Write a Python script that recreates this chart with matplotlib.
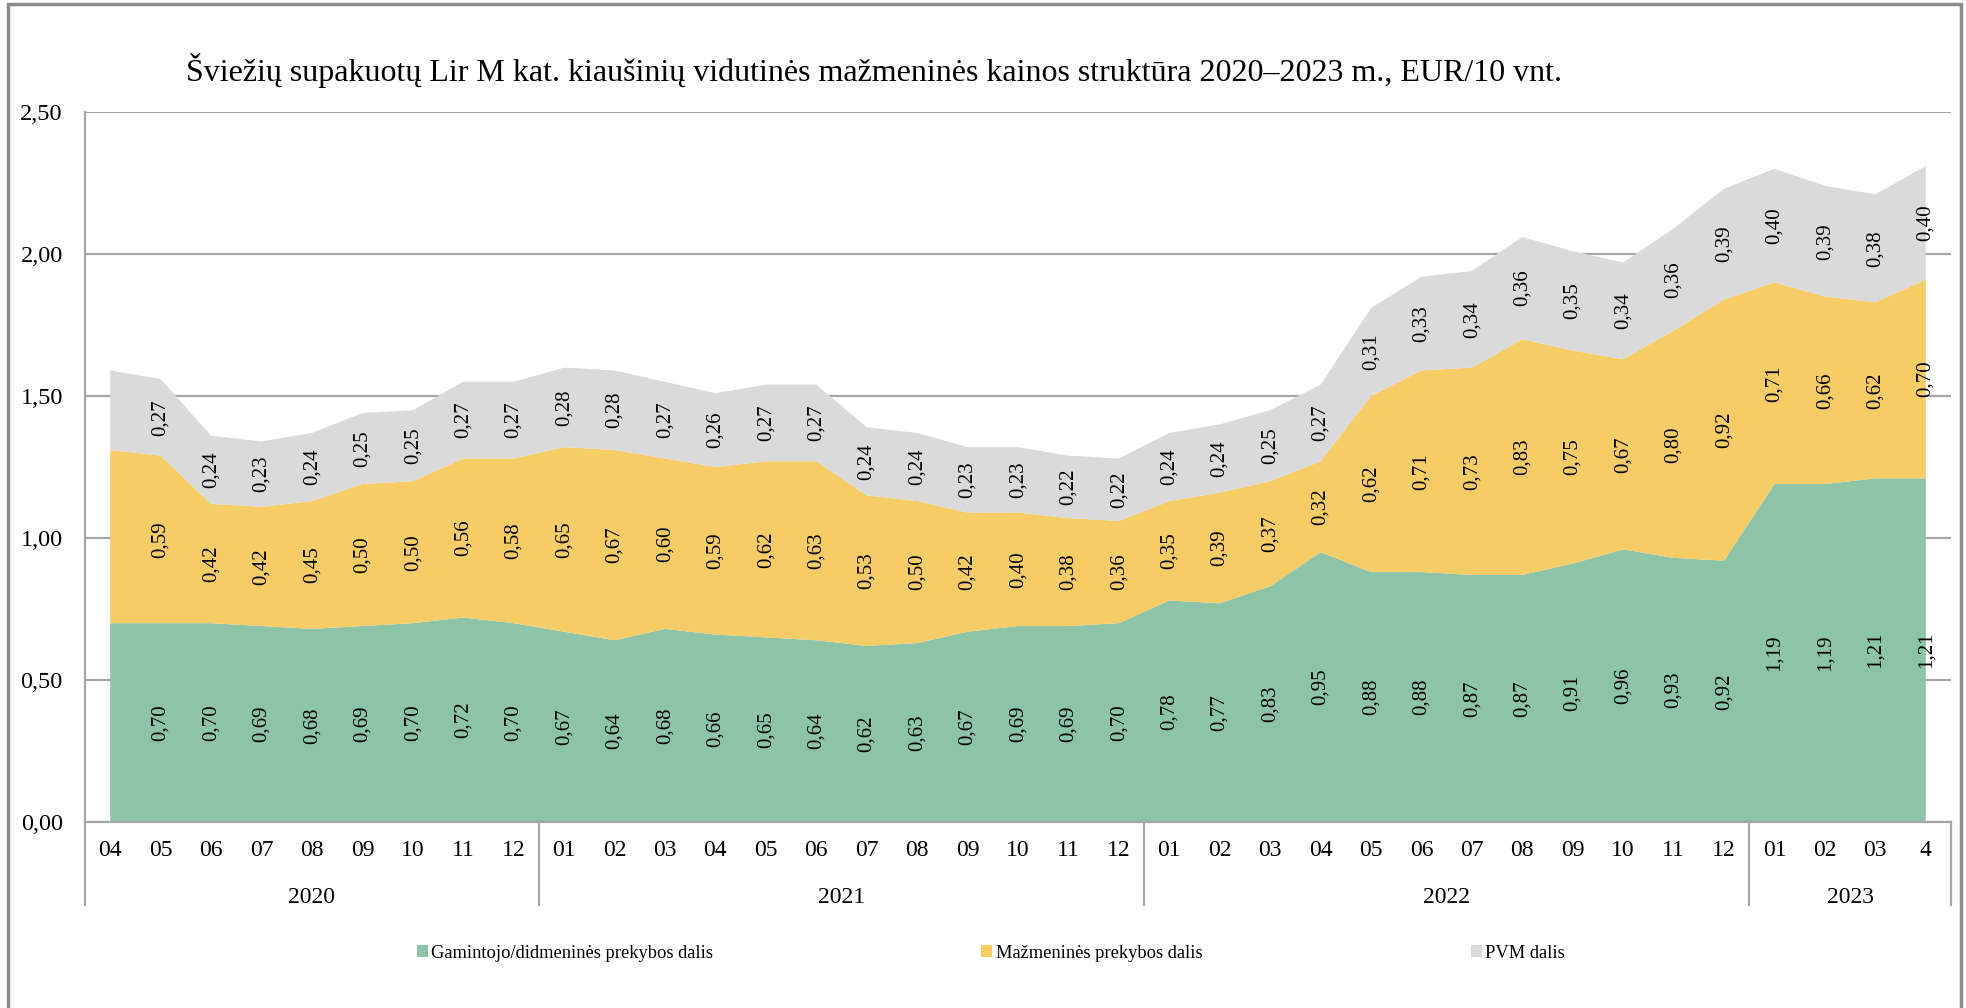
import matplotlib
matplotlib.use("Agg")
import matplotlib.pyplot as plt
import matplotlib.transforms as mtransforms
from matplotlib.patches import Rectangle

plt.rcParams['font.family'] = ['Liberation Serif', 'DejaVu Serif']

# duomenys, EUR/10 vnt.
months = ['04', '05', '06', '07', '08', '09', '10', '11', '12',
          '01', '02', '03', '04', '05', '06', '07', '08', '09', '10', '11', '12',
          '01', '02', '03', '04', '05', '06', '07', '08', '09', '10', '11', '12',
          '01', '02', '03', '4']
years = ['2020', '2021', '2022', '2023']
year_counts = [9, 12, 12, 4]

gamintojo = [0.70, 0.70, 0.70, 0.69, 0.68, 0.69, 0.70, 0.72, 0.70,
             0.67, 0.64, 0.68, 0.66, 0.65, 0.64, 0.62, 0.63, 0.67, 0.69, 0.69, 0.70,
             0.78, 0.77, 0.83, 0.95, 0.88, 0.88, 0.87, 0.87, 0.91, 0.96, 0.93, 0.92,
             1.19, 1.19, 1.21, 1.21]
mazmenines = [0.61, 0.59, 0.42, 0.42, 0.45, 0.50, 0.50, 0.56, 0.58,
              0.65, 0.67, 0.60, 0.59, 0.62, 0.63, 0.53, 0.50, 0.42, 0.40, 0.38, 0.36,
              0.35, 0.39, 0.37, 0.32, 0.62, 0.71, 0.73, 0.83, 0.75, 0.67, 0.80, 0.92,
              0.71, 0.66, 0.62, 0.70]
pvm = [0.28, 0.27, 0.24, 0.23, 0.24, 0.25, 0.25, 0.27, 0.27,
       0.28, 0.28, 0.27, 0.26, 0.27, 0.27, 0.24, 0.24, 0.23, 0.23, 0.22, 0.22,
       0.24, 0.24, 0.25, 0.27, 0.31, 0.33, 0.34, 0.36, 0.35, 0.34, 0.36, 0.39,
       0.40, 0.39, 0.38, 0.40]

series_names = ['Gamintojo/didmeninės prekybos dalis', 'Mažmeninės prekybos dalis', 'PVM dalis']
colors = ['#8DC3A7', '#F5CC66', '#DADADA']

W, H = 1966, 1008
fig = plt.figure(figsize=(W / 100, H / 100), dpi=100)
ax = fig.add_axes([85 / W, 1 - 822 / H, (1951 - 85) / W, (822 - 112) / H])

x = list(range(len(months)))
ax.stackplot(x, gamintojo, mazmenines, pvm, colors=colors, labels=series_names, linewidth=0)

ax.set_xlim(-0.5, len(months) - 0.5)
ax.set_ylim(0, 2.5)
ax.set_yticks([0, 0.5, 1.0, 1.5, 2.0, 2.5])
ax.set_yticklabels(['0,00', '0,50', '1,00', '1,50', '2,00', '2,50'], fontsize=17.5)
ax.yaxis.grid(True, color='#A6A6A6', lw=1.6)
ax.set_axisbelow(True)
ax.tick_params(axis='y', length=0, pad=16)

ax.set_xticks(x)
ax.set_xticklabels(months, fontsize=17)
ax.tick_params(axis='x', length=0, pad=13)

for s in ['top', 'right']:
    ax.spines[s].set_visible(False)
for s in ['left', 'bottom']:
    ax.spines[s].set_color('#A6A6A6')
    ax.spines[s].set_linewidth(1.6)

# reikšmės (pirmam taškui nerodomos)
for i in range(1, len(x)):
    base = 0
    for vals in (gamintojo, mazmenines, pvm):
        v = vals[i]
        ax.text(i, base + v / 2, f'{v:.2f}'.replace('.', ','), rotation=90,
                ha='center', va='center', fontsize=15)
        base += v

# metų ašis
trans = mtransforms.blended_transform_factory(ax.transData, ax.transAxes)
start = 0
bounds = [-0.5]
for yr, n in zip(years, year_counts):
    ax.text(start + (n - 1) / 2, -0.107, yr, transform=trans, ha='center', va='center', fontsize=17)
    start += n
    bounds.append(start - 0.5)
for b in bounds:
    ax.plot([b, b], [0, -0.117], transform=trans, color='#A6A6A6', lw=1.6, clip_on=False)

fig.text(186 / W, 1 - 71 / H,
         'Šviežių supakuotų Lir M kat. kiaušinių vidutinės mažmeninės kainos struktūra 2020–2023 m., EUR/10 vnt.',
         ha='left', va='center', fontsize=23)

fig.legend(loc='center', bbox_to_anchor=(0.504, 1 - 953 / H), ncol=3, frameon=False,
           fontsize=13.3, handlelength=0.6, handleheight=0.6, handletextpad=0.2,
           columnspacing=14.5)

# rėmelis
fig.patches.append(Rectangle((8 / W, -0.01), (1961 - 8) / W, 1.01 - 4 / H,
                             transform=fig.transFigure, fill=False,
                             edgecolor='#8C8C8C', lw=2.5, clip_on=False))

fig.savefig('out.png', dpi=100)
